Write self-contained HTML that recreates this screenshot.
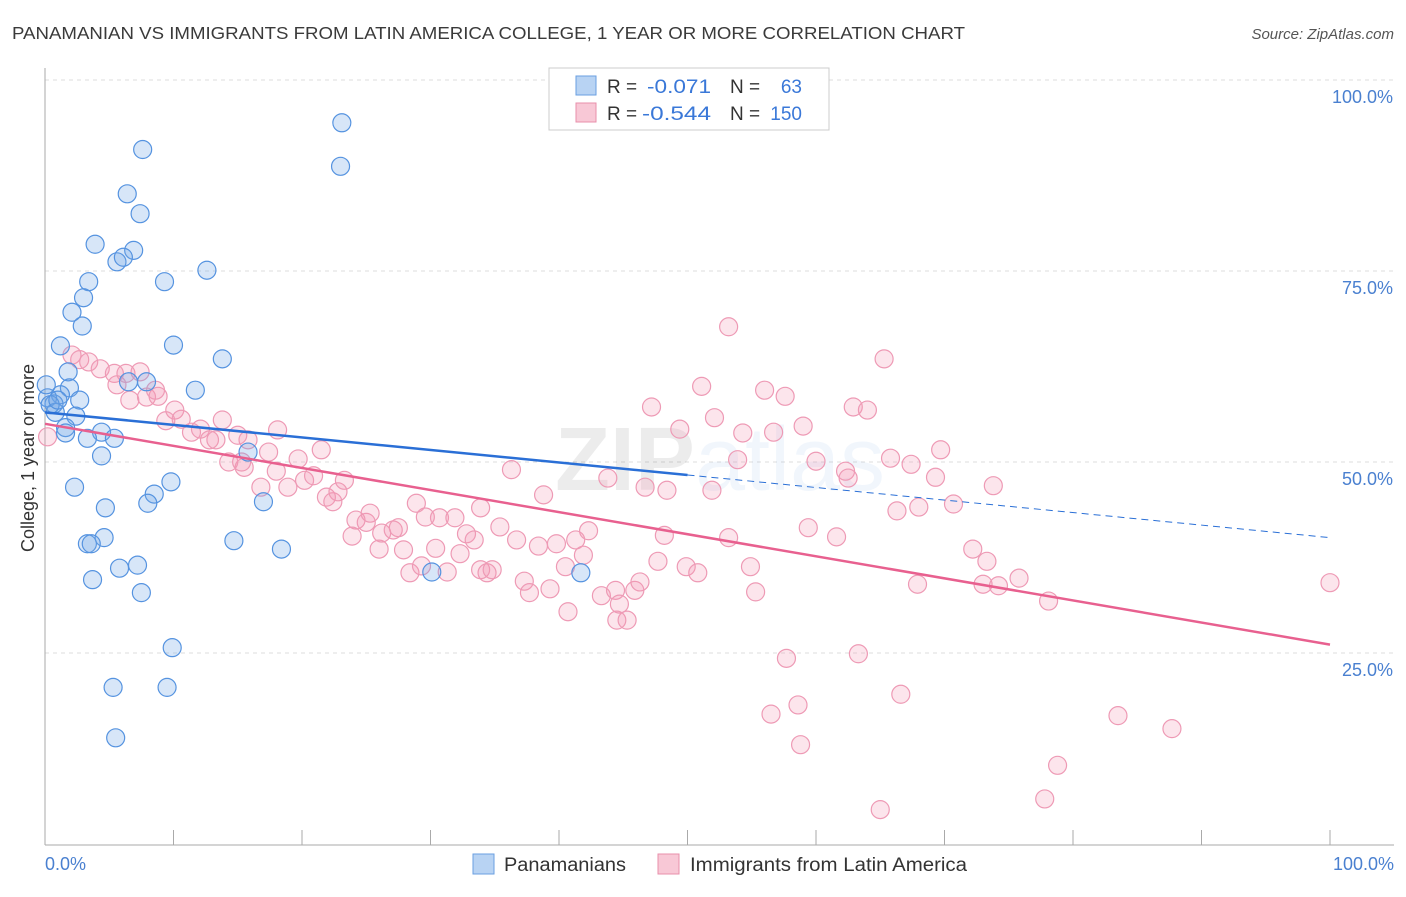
<!DOCTYPE html>
<html><head><meta charset="utf-8"><style>
body{margin:0;background:#fff;font-family:"Liberation Sans",sans-serif;}
svg text{font-family:"Liberation Sans",sans-serif;}
</style></head><body>
<svg id="chart" width="1406" height="892" xmlns="http://www.w3.org/2000/svg">
<text x="12" y="39" font-size="17.5" fill="#3a3a3a" textLength="953" lengthAdjust="spacingAndGlyphs">PANAMANIAN VS IMMIGRANTS FROM LATIN AMERICA COLLEGE, 1 YEAR OR MORE CORRELATION CHART</text>
<text x="1394" y="39" font-size="15" fill="#555" font-style="italic" text-anchor="end">Source: ZipAtlas.com</text>
<g id="grid"></g>
<g id="axes"></g>
<text x="720" y="490" font-size="90" fill="#000" opacity="0.07" text-anchor="middle" font-weight="bold">ZIP<tspan font-weight="normal" fill="#4a90e2" opacity="1">atlas</tspan></text>
<g id="pink"></g>
<g id="blue"></g>
<g id="lines"></g>
<text transform="translate(34,458) rotate(-90)" font-size="18" fill="#333" text-anchor="middle">College, 1 year or more</text>
<text x="45" y="870" font-size="18" fill="#4a80d0">0.0%</text>
<text x="1394" y="870" font-size="18" fill="#4a80d0" text-anchor="end">100.0%</text>
<g>
<rect x="549" y="68" width="280" height="62" fill="#fff" stroke="#ccc"/>
<rect x="576" y="76" width="20" height="19" fill="#b8d3f3" stroke="#6a9fe0"/>
<rect x="576" y="103" width="20" height="19" fill="#f8c8d6" stroke="#e88fab"/>
<text x="607" y="93" font-size="19" fill="#333">R =</text>
<text x="647" y="93" font-size="19" fill="#3a78d8" textLength="64" lengthAdjust="spacingAndGlyphs">-0.071</text>
<text x="730" y="93" font-size="19" fill="#333">N =</text>
<text x="802" y="93" font-size="19" fill="#3a78d8" text-anchor="end">63</text>
<text x="607" y="120" font-size="19" fill="#333">R =</text>
<text x="642" y="120" font-size="19" fill="#3a78d8" textLength="69" lengthAdjust="spacingAndGlyphs">-0.544</text>
<text x="730" y="120" font-size="19" fill="#333">N =</text>
<text x="802" y="120" font-size="19" fill="#3a78d8" text-anchor="end">150</text>
</g>
<g>
<rect x="473" y="854" width="21" height="20" fill="#b8d3f3" stroke="#6a9fe0"/>
<text x="504" y="871" font-size="19" fill="#333" textLength="122" lengthAdjust="spacingAndGlyphs">Panamanians</text>
<rect x="658" y="854" width="21" height="20" fill="#f8c8d6" stroke="#e88fab"/>
<text x="690" y="871" font-size="19" fill="#333" textLength="277" lengthAdjust="spacingAndGlyphs">Immigrants from Latin America</text>
</g>
</svg>
<script>
const yTicks=[25,50,75,100];
const yTickLabels=["25.0%","50.0%","75.0%","100.0%"];
const xTicks=[0,10,20,30,40,50,60,70,80,90,100];
const blueX=[23.1,23.0,7.6,6.4,7.4,3.9,6.9,5.6,6.1,12.6,9.3,3.4,3.0,2.1,2.9,10.0,1.2,13.8,1.8,7.9,6.5,1.9,11.7,2.7,1.2,0.2,0.7,0.8,2.4,1.6,1.6,4.4,15.8,3.3,5.4,4.4,9.8,2.3,8.5,8.0,17.0,4.7,4.6,3.3,3.6,14.7,18.4,5.8,7.2,3.7,7.5,41.7,30.1,9.9,5.3,9.5,5.5,0.4,1.0,0.1];
const blueY=[94.4,88.7,90.9,85.1,82.5,78.5,77.7,76.2,76.8,75.1,73.6,73.6,71.5,69.6,67.8,65.3,65.2,63.5,61.8,60.5,60.5,59.7,59.4,58.1,58.8,58.4,57.6,56.5,56.0,54.5,53.8,53.9,51.3,53.1,53.1,50.8,47.4,46.7,45.8,44.6,44.8,44.0,40.1,39.3,39.3,39.7,38.6,36.1,36.5,34.6,32.9,35.5,35.6,25.7,20.5,20.5,13.9,57.5,58.1,60.1];
const pinkX=[53.2,65.3,51.1,56.0,57.6,47.2,62.9,64.0,52.1,49.4,59.0,54.3,56.7,69.7,65.8,53.9,60.0,62.3,67.4,36.3,62.5,43.8,69.3,46.7,48.4,51.9,73.8,38.8,66.3,68.0,70.7,33.9,48.2,53.2,61.6,72.2,73.3,75.8,73.0,74.2,67.9,78.1,100.0,59.4,0.2,2.1,2.7,3.4,4.3,5.4,6.3,5.6,7.4,6.6,7.9,8.8,8.6,10.1,9.4,10.6,11.4,12.1,12.8,13.3,13.8,15.0,14.3,15.5,15.8,17.4,18.1,15.3,16.8,18.0,18.9,19.7,20.2,20.9,21.5,21.9,22.4,22.8,23.3,24.2,25.0,25.3,23.9,26.0,26.2,27.1,27.5,27.9,28.9,29.6,28.4,29.3,30.4,30.7,31.3,31.9,32.3,32.8,33.4,33.9,34.4,34.8,35.4,36.7,37.3,37.7,38.4,39.3,39.8,40.5,40.7,41.3,41.9,42.3,43.3,44.4,44.5,45.3,44.7,45.9,46.3,47.7,49.9,50.8,54.9,55.3,57.7,56.5,58.6,58.8,63.3,65.0,66.6,78.8,83.5,87.7,77.8];
const pinkY=[67.7,63.5,59.9,59.4,58.6,57.2,57.2,56.8,55.8,54.3,54.7,53.8,53.9,51.6,50.5,50.3,50.1,48.8,49.7,49.0,47.9,47.9,48.0,46.7,46.3,46.3,46.9,45.7,43.6,44.1,44.5,44.0,40.4,40.1,40.2,38.6,37.0,34.8,34.0,33.8,34.0,31.8,34.2,41.4,53.3,64.0,63.4,63.1,62.2,61.6,61.6,60.1,61.8,58.1,58.5,58.6,59.4,56.8,55.4,55.6,53.9,54.3,52.9,52.9,55.5,53.5,50.0,49.3,52.9,51.3,54.2,50.0,46.7,48.8,46.7,50.4,47.6,48.2,51.6,45.4,44.8,46.1,47.6,42.4,42.1,43.3,40.3,38.6,40.7,41.1,41.4,38.5,44.6,42.8,35.5,36.4,38.7,42.7,35.6,42.7,38.0,40.6,39.8,35.9,35.5,35.9,41.5,39.8,34.4,32.9,39.0,33.4,39.3,36.3,30.4,39.8,37.8,41.0,32.5,33.2,29.3,29.3,31.4,33.2,34.3,37.0,36.3,35.5,36.3,33.0,24.3,17.0,18.2,13.0,24.9,4.5,19.6,10.3,16.8,15.1,5.9];
const blueTrend=[56.5,48.3,40.1];
const pinkTrend=[55.0,26.1];

const NS="http://www.w3.org/2000/svg";
const X=v=>45+v*12.85;
const Y=v=>844-v*7.64;
function mk(tag,attrs,parent){const e=document.createElementNS(NS,tag);for(const k in attrs)e.setAttribute(k,attrs[k]);parent.appendChild(e);return e;}
const grid=document.getElementById('grid'),axes=document.getElementById('axes');
yTicks.forEach((t,i)=>{
  const l=mk('line',{x1:45,x2:1394,y1:Y(t),y2:Y(t),stroke:'#ddd','stroke-dasharray':'4,4'},grid);
  
  
  const tx=mk('text',{x:1393,y:Y(t)+23,'font-size':18,fill:'#4a80d0','text-anchor':'end'},axes);
  tx.textContent=yTickLabels[i];
  
  
});
const ya=mk('line',{x1:45,x2:45,y1:68,y2:845,stroke:'#aaa'},axes);


const xa=mk('line',{x1:45,x2:1394,y1:845,y2:845,stroke:'#aaa'},axes);


xTicks.forEach(t=>{
  const k=mk('line',{x1:X(t),x2:X(t),y1:830,y2:845,stroke:'#aaa'},axes);
  
  
});
const pg=document.getElementById('pink');
pinkX.forEach((v,i)=>{
  const c=mk('circle',{cx:X(v),cy:Y(pinkY[i]),r:9,fill:'rgba(244,150,180,0.25)',stroke:'#ee9ab5','stroke-width':1.2},pg);
  
  
});
const bg=document.getElementById('blue');
blueX.forEach((v,i)=>{
  const c=mk('circle',{cx:X(v),cy:Y(blueY[i]),r:9,fill:'rgba(110,165,230,0.28)',stroke:'#5593e0','stroke-width':1.2},bg);
  
  
});
const lg=document.getElementById('lines');
const b1=mk('line',{x1:X(0),y1:Y(blueTrend[0]),x2:X(50),y2:Y(blueTrend[1]),stroke:'#2a6fd6','stroke-width':2.5},lg);


const b2=mk('line',{x1:X(50),y1:Y(blueTrend[1]),x2:X(100),y2:Y(blueTrend[2]),stroke:'#2a6fd6','stroke-width':1,'stroke-dasharray':'7,5'},lg);


const p1=mk('line',{x1:X(0),y1:Y(pinkTrend[0]),x2:X(100),y2:Y(pinkTrend[1]),stroke:'#e8608f','stroke-width':2.5},lg);


</script>
</body></html>
